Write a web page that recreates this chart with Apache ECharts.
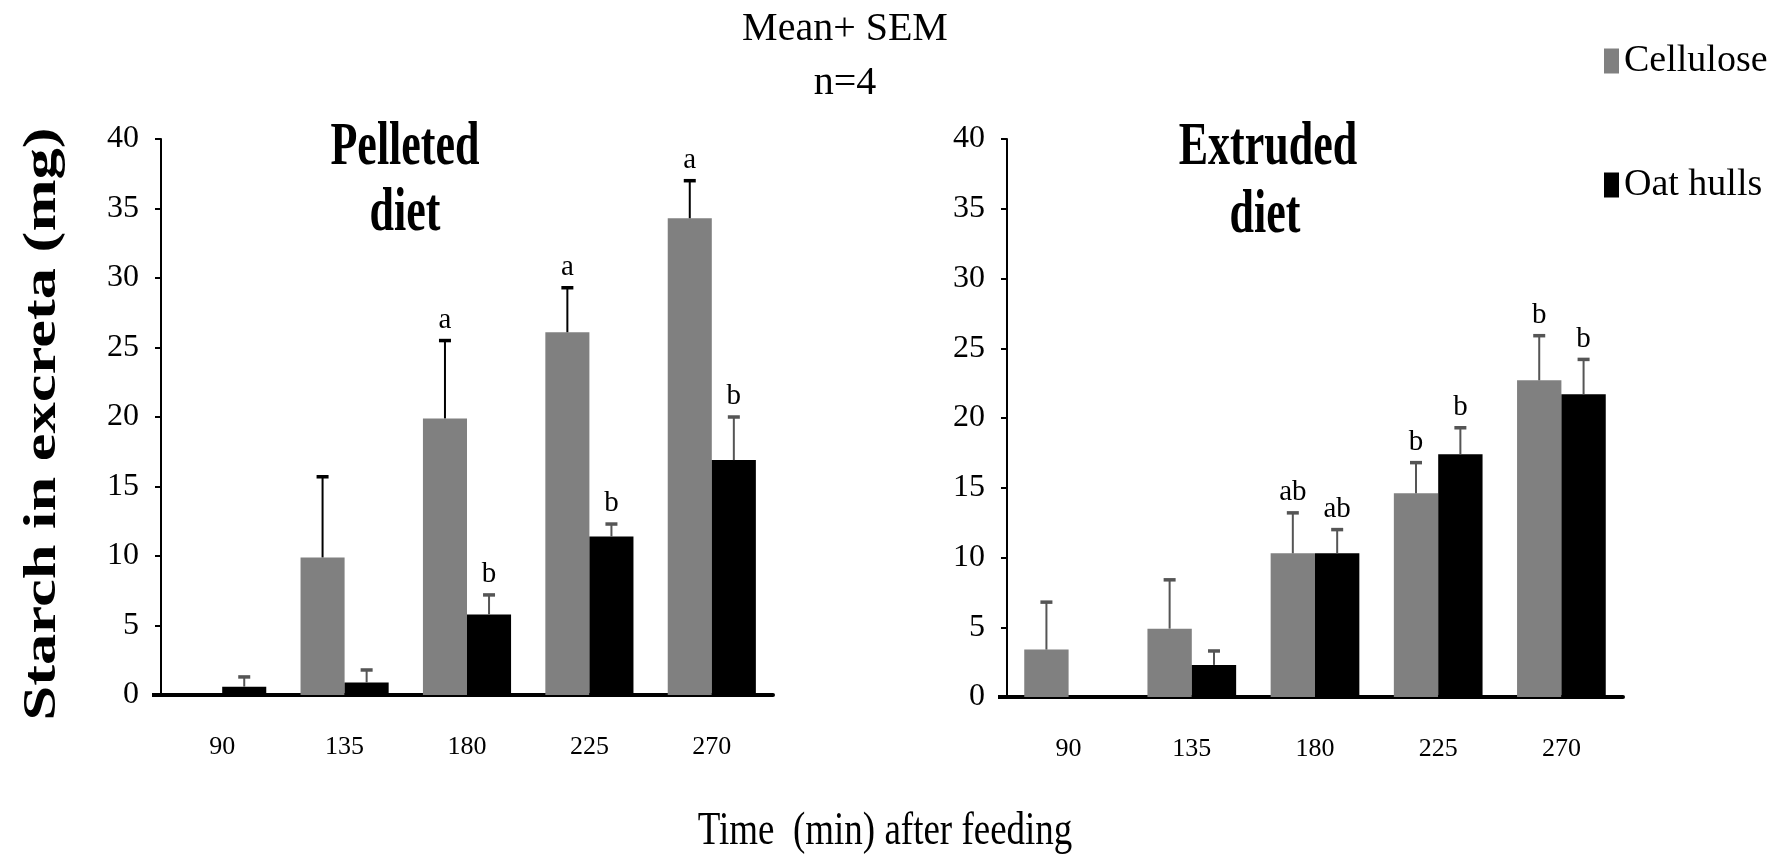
<!DOCTYPE html>
<html>
<head>
<meta charset="utf-8">
<script src="https://cdn.jsdelivr.net/npm/echarts@6/dist/echarts.min.js"></script>
<style>
  html, body { margin: 0; padding: 0; background: #fff; }
  #chart { width: 1789px; height: 854px; }
</style>
</head>
<body>
<div id="chart"></div>
<script>
// Sampling times (min after feeding)
const categories = ['90', '135', '180', '225', '270'];

// Pelleted diet: means and SEM (mg)
const pelletedCellulose    = [0, 9.9, 19.9, 26.1, 34.3];
const pelletedCelluloseSem = [0, 5.8, 5.6, 3.2, 2.7];
const pelletedOat          = [0.6, 0.9, 5.8, 11.4, 16.9];
const pelletedOatSem       = [0.7, 0.9, 1.4, 0.9, 3.1];

// Extruded diet: means and SEM (mg)
const extrudedCellulose    = [3.4, 4.9, 10.3, 14.6, 22.7];
const extrudedCelluloseSem = [3.4, 3.5, 2.9, 2.2, 3.2];
const extrudedOat          = [0, 2.3, 10.3, 17.4, 21.7];
const extrudedOatSem       = [0, 1.0, 1.7, 1.9, 2.5];

// Significance letters above each bar
const pelletedCelluloseLetters = ['', '', 'a', 'a', 'a'];
const pelletedOatLetters       = ['', '', 'b', 'b', 'b'];
const extrudedCelluloseLetters = ['', '', 'ab', 'b', 'b'];
const extrudedOatLetters       = ['', '', 'ab', 'b', 'b'];

// Y axis scale
const yMin = 0, yMax = 40, yStep = 5;

const SERIF = '"Liberation Serif", "Times New Roman", serif';
const BAR_SHARE = 0.36;   // bar width as a share of the category band
const GRAY = '#808080';

// Error bar (mean + SEM) with its letter, drawn beside the matching bar
function errorBars(sems, letters, side, color) {
  return function (params, api) {
    const i = api.value(0);
    const mean = api.value(1);
    const sem = sems[params.dataIndex];
    const band = api.size([1, 0])[0];
    const x = api.coord([i, 0])[0] + side * band * BAR_SHARE / 2;
    const yBase = api.coord([i, mean])[1];
    const yTop = api.coord([i, mean + sem])[1];
    const children = [];
    if (sem > 0) {
      children.push({
        type: 'line',
        shape: { x1: x, y1: yBase, x2: x, y2: yTop },
        style: { stroke: color, lineWidth: 2 }
      });
      children.push({
        type: 'line',
        shape: { x1: x - 6, y1: yTop, x2: x + 6, y2: yTop },
        style: { stroke: color, lineWidth: 3.5 }
      });
    }
    const letter = letters[params.dataIndex];
    if (letter) {
      children.push({
        type: 'text',
        x: x, y: yTop - 6,
        style: {
          text: letter, fill: '#000',
          font: '29px ' + SERIF,
          textAlign: 'center', textVerticalAlign: 'bottom'
        }
      });
    }
    return { type: 'group', children: children };
  };
}

function pairs(values) {
  return values.map((v, i) => [i, v]);
}

function xAxisFor(gridIndex) {
  return {
    type: 'category', gridIndex: gridIndex, data: categories,
    axisLine: { lineStyle: { color: '#000', width: 4 } },
    axisTick: { show: false },
    axisLabel: { color: '#000', fontFamily: SERIF, fontSize: 26, margin: 39 },
    splitLine: { show: false }
  };
}

function yAxisFor(gridIndex) {
  return {
    type: 'value', gridIndex: gridIndex, min: yMin, max: yMax, interval: yStep,
    axisLine: { show: true, lineStyle: { color: '#000', width: 2 } },
    axisTick: { show: true, length: 6, lineStyle: { color: '#000', width: 2 } },
    axisLabel: { color: '#000', fontFamily: SERIF, fontSize: 32, margin: 22 },
    splitLine: { show: false }
  };
}

function barSeries(name, values, axis, color) {
  return {
    name: name, type: 'bar', xAxisIndex: axis, yAxisIndex: axis,
    data: values, barWidth: (BAR_SHARE * 100) + '%', barGap: '0%',
    itemStyle: { color: color }, z: 2
  };
}

function errorSeries(values, sems, letters, axis, side, color) {
  return {
    type: 'custom', xAxisIndex: axis, yAxisIndex: axis,
    data: pairs(values), z: 3, silent: true,
    renderItem: errorBars(sems, letters, side, color)
  };
}

function label(text, x, y, size, opts) {
  opts = opts || {};
  return {
    type: 'text', x: x, y: y,
    rotation: opts.rotation || 0,
    scaleX: opts.scaleX || 1, scaleY: opts.scaleY || 1,
    style: {
      text: text, fill: '#000',
      font: (opts.bold ? 'bold ' : '') + size + 'px ' + SERIF,
      textAlign: 'center', textVerticalAlign: 'middle'
    }
  };
}

// Short stub where the baseline runs past the left of each value axis
function baseStub(x1, x2, y) {
  return {
    type: 'line', silent: true,
    shape: { x1: x1, y1: y, x2: x2, y2: y },
    style: { stroke: '#000', lineWidth: 4 }
  };
}

const chart = echarts.init(document.getElementById('chart'));
chart.setOption({
  backgroundColor: '#fff',
  animation: false,
  grid: [
    { left: 161, top: 139, width: 612, height: 556 },
    { left: 1007, top: 139, width: 616, height: 558 }
  ],
  xAxis: [xAxisFor(0), xAxisFor(1)],
  yAxis: [yAxisFor(0), yAxisFor(1)],
  legend: {
    data: ['Cellulose', 'Oat hulls'],
    orient: 'vertical', left: 1604, top: 42, padding: 0,
    itemWidth: 15, itemHeight: 25, itemGap: 86, icon: 'rect',
    textStyle: { color: '#000', fontFamily: SERIF, fontSize: 38, lineHeight: 38 }
  },
  series: [
    barSeries('Cellulose', pelletedCellulose, 0, GRAY),
    barSeries('Oat hulls', pelletedOat, 0, '#000'),
    barSeries('Cellulose', extrudedCellulose, 1, GRAY),
    barSeries('Oat hulls', extrudedOat, 1, '#000'),
    errorSeries(pelletedCellulose, pelletedCelluloseSem, pelletedCelluloseLetters, 0, -1, '#000'),
    errorSeries(pelletedOat, pelletedOatSem, pelletedOatLetters, 0, 1, '#555'),
    errorSeries(extrudedCellulose, extrudedCelluloseSem, extrudedCelluloseLetters, 1, -1, '#555'),
    errorSeries(extrudedOat, extrudedOatSem, extrudedOatLetters, 1, 1, '#555')
  ],
  graphic: [
    baseStub(152, 162, 695),
    baseStub(998, 1008, 697),
    label('Mean+ SEM', 845, 29, 40),
    label('n=4', 845, 83, 40),
    label('Pelleted', 405, 148, 44, { bold: true, scaleY: 1.4 }),
    label('diet', 405, 214, 44, { bold: true, scaleY: 1.4 }),
    label('Extruded', 1268, 148, 44, { bold: true, scaleY: 1.4 }),
    label('diet', 1265, 216, 44, { bold: true, scaleY: 1.4 }),
    label('Starch in excreta (mg)', 43, 424, 47, { bold: true, rotation: Math.PI / 2, scaleX: 1.33 }),
    label('Time  (min) after feeding', 885, 832, 37, { scaleY: 1.25 })
  ]
});
</script>
</body>
</html>
